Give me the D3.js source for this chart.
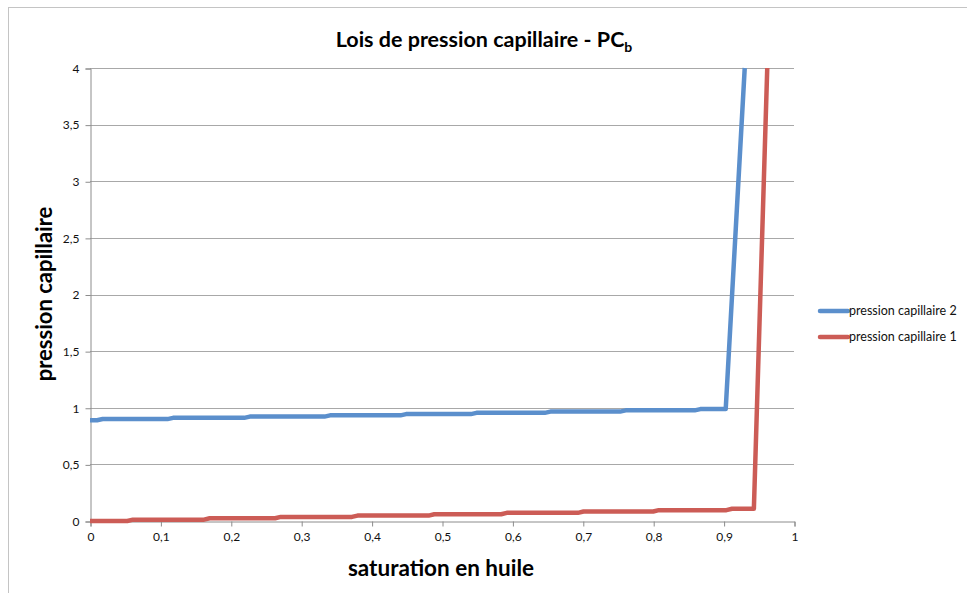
<!DOCTYPE html>
<html>
<head>
<meta charset="utf-8">
<script src="https://cdn.jsdelivr.net/npm/d3@7"></script>
<style>
  body { margin: 0; background: #fff; }
  svg { display: block; font-family: Lato, "Open Sans", sans-serif; }
</style>
</head>
<body>
<svg id="chart" width="967" height="593"></svg>
<script>
// Saturation en huile (x) and capillary pressure (y) for both curves
const sat2 = [0, 0.010, 0.018, 0.110, 0.118, 0.219, 0.227, 0.333, 0.341, 0.441, 0.449, 0.541, 0.549, 0.646, 0.654, 0.753, 0.761, 0.859, 0.867, 0.903, 0.930];
const pc2  = [0.89, 0.89, 0.90, 0.90, 0.911, 0.911, 0.922, 0.922, 0.933, 0.933, 0.944, 0.944, 0.955, 0.955, 0.966, 0.966, 0.977, 0.977, 0.988, 0.988, 4];

const sat1 = [0, 0.053, 0.061, 0.162, 0.170, 0.263, 0.271, 0.372, 0.380, 0.481, 0.489, 0.584, 0.592, 0.693, 0.701, 0.800, 0.808, 0.904, 0.912, 0.943, 0.962];
const pc1  = [0, 0, 0.012, 0.012, 0.024, 0.024, 0.036, 0.036, 0.048, 0.048, 0.060, 0.060, 0.072, 0.072, 0.084, 0.084, 0.096, 0.096, 0.108, 0.108, 4];

const seriesNames = ["pression capillaire 2", "pression capillaire 1"];
const seriesColors = ["#5b8fcc", "#cc5c56"];

const xTicks = [0, 0.1, 0.2, 0.3, 0.4, 0.5, 0.6, 0.7, 0.8, 0.9, 1];
const yTicks = [0, 0.5, 1, 1.5, 2, 2.5, 3, 3.5, 4];

const svg = d3.select("#chart");

// outer chart frame
svg.append("rect")
  .attr("x", 8.5).attr("y", 7.5)
  .attr("width", 1100).attr("height", 1100)
  .attr("fill", "none").attr("stroke", "#c4c4c4");

const x = d3.scaleLinear().domain([0, 1]).range([90, 794]);
const y = d3.scaleLinear().domain([0, 4]).range([521, 68]);
const fmt = d => String(d).replace(".", ",");

// horizontal gridlines
svg.append("g")
  .selectAll("line")
  .data(yTicks.filter(d => d > 0))
  .join("line")
  .attr("x1", x(0)).attr("x2", x(1))
  .attr("y1", d => Math.round(y(d)) + 0.5).attr("y2", d => Math.round(y(d)) + 0.5)
  .attr("stroke", "#a8a8a8").attr("stroke-width", 1);

// y axis
const yAxis = svg.append("g")
  .attr("transform", `translate(${x(0) + 0.5},0.5)`)
  .call(d3.axisLeft(y).tickValues(yTicks).tickFormat(fmt).tickSize(5).tickPadding(6));
// x axis
const xAxis = svg.append("g")
  .attr("transform", `translate(0.5,${Math.round(y(0)) + 0.5})`)
  .call(d3.axisBottom(x).tickValues(xTicks).tickFormat(fmt).tickSize(5).tickPadding(6));

[yAxis, xAxis].forEach(g => {
  g.select(".domain").attr("stroke", "#8c8c8c");
  g.selectAll(".tick line").attr("stroke", "#8c8c8c");
  g.selectAll(".tick text")
    .attr("fill", "#111")
    .style("font-family", "Lato, sans-serif")
    .style("font-size", "12px");
});

// curves
const line = d3.line().x(d => x(d[0])).y(d => y(d[1]));
const curves = [d3.zip(sat2, pc2), d3.zip(sat1, pc1)];
curves.forEach((pts, i) => {
  svg.append("path")
    .datum(pts)
    .attr("d", line)
    .attr("fill", "none")
    .attr("stroke", seriesColors[i])
    .attr("stroke-width", 4.5)
    .attr("stroke-linejoin", "round");
});

// title
const title = svg.append("text")
  .attr("x", 484).attr("y", 47)
  .attr("text-anchor", "middle")
  .style("font-weight", "bold").style("font-size", "21.5px").attr("fill", "#000");
title.append("tspan").text("Lois de pression capillaire - PC");
title.append("tspan").text("b").attr("dy", 5).style("font-size", "14px");

// axis titles
svg.append("text")
  .attr("x", 441).attr("y", 576)
  .attr("text-anchor", "middle")
  .style("font-weight", "bold").style("font-size", "22.5px").attr("fill", "#000")
  .text("saturation en huile");

svg.append("text")
  .attr("transform", "translate(52,294) rotate(-90)")
  .attr("text-anchor", "middle")
  .style("font-weight", "bold").style("font-size", "22px").attr("fill", "#000")
  .text("pression capillaire");

// legend
const legend = svg.append("g");
seriesNames.forEach((name, i) => {
  const ly = 311 + i * 26;
  legend.append("line")
    .attr("x1", 820).attr("x2", 848).attr("y1", ly).attr("y2", ly)
    .attr("stroke", seriesColors[i]).attr("stroke-width", 4.5)
    .attr("stroke-linecap", "round");
  legend.append("text")
    .attr("x", 849).attr("y", ly + 4)
    .style("font-size", "12.5px").attr("fill", "#111")
    .text(name);
});
</script>
</body>
</html>
